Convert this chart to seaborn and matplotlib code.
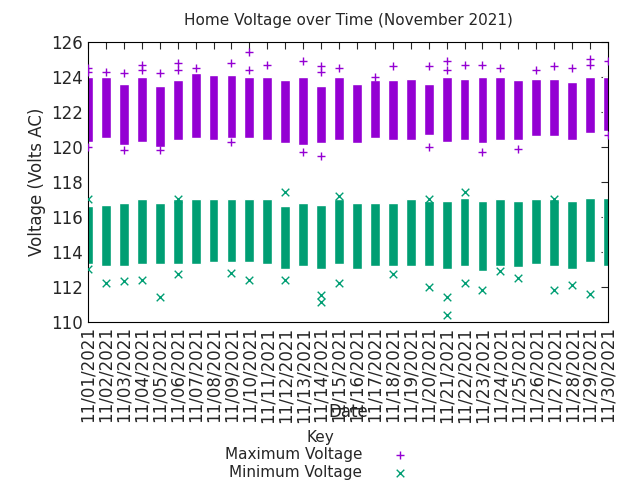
import numpy as np
import pandas as pd
import matplotlib
matplotlib.use("Agg")
import matplotlib.pyplot as plt
import seaborn as sns

days = [f"11/{d:02d}/2021" for d in range(1, 31)]
max_hi = [124.0, 124.0, 123.6, 124.0, 123.5, 123.8, 124.2, 124.1, 124.1, 124.0,
          124.0, 123.8, 124.0, 123.5, 124.0, 123.6, 123.8, 123.8, 123.9, 123.6,
          124.0, 123.9, 124.0, 124.0, 123.8, 123.9, 123.9, 123.7, 124.0, 124.0]
max_lo = [120.3, 120.5, 120.1, 120.3, 120.0, 120.4, 120.5, 120.4, 120.5, 120.5,
          120.4, 120.2, 120.1, 120.2, 120.4, 120.2, 120.5, 120.4, 120.4, 120.7,
          120.3, 120.4, 120.2, 120.4, 120.4, 120.6, 120.6, 120.4, 120.8, 120.9]
min_hi = [116.6, 116.7, 116.8, 117.0, 116.8, 117.0, 117.0, 117.0, 117.0, 117.0,
          117.0, 116.6, 116.8, 116.7, 117.0, 116.8, 116.8, 116.8, 117.0, 116.9,
          116.9, 117.1, 116.9, 117.0, 116.9, 117.0, 117.0, 116.9, 117.1, 117.1]
min_lo = [113.3, 113.2, 113.2, 113.3, 113.3, 113.3, 113.3, 113.4, 113.4, 113.4,
          113.3, 113.0, 113.2, 113.0, 113.3, 113.0, 113.2, 113.2, 113.2, 113.2,
          113.0, 113.2, 112.9, 113.2, 113.1, 113.3, 113.2, 113.0, 113.4, 113.2]

# scattered readings outside the dense band (day index, volts)
max_out_day = [0, 0, 1, 2, 3, 3, 4, 5, 5, 6, 8, 9, 9, 10, 12, 13, 13, 14, 16, 17, 19, 20,
               20, 21, 22, 23, 25, 26, 27, 28, 28, 29, 0, 2, 4, 8, 12, 13, 19, 22, 24, 29]
max_out_val = [124.5, 124.3, 124.3, 124.2, 124.7, 124.4, 124.2, 124.8, 124.4, 124.5, 124.8,
               125.4, 124.4, 124.7, 124.9, 124.6, 124.3, 124.5, 124.0, 124.6, 124.6, 124.9,
               124.4, 124.7, 124.7, 124.5, 124.4, 124.6, 124.5, 125.0, 124.7, 124.9,
               120.0, 119.8, 119.8, 120.3, 119.7, 119.5, 120.0, 119.7, 119.9, 120.7]
min_out_day = [0, 1, 2, 3, 4, 5, 8, 9, 11, 13, 13, 14, 17, 19, 19, 20, 21, 21, 22, 23, 24,
               26, 26, 27, 28, 0, 5, 11, 14, 20]
min_out_val = [117.0, 112.2, 112.3, 112.4, 111.4, 112.7, 112.8, 112.4, 117.4, 111.5, 111.1,
               117.2, 112.7, 112.0, 117.0, 110.4, 112.2, 117.4, 111.8, 112.9, 112.5,
               111.8, 117.0, 112.1, 111.6, 113.0, 117.0, 112.4, 112.2, 111.4]

purple = "#9400d3"
green = "#009e73"

sns.set_style("white")
fig, ax = plt.subplots(figsize=(6.4, 4.8), dpi=100)
fig.subplots_adjust(left=0.1375, right=0.95, top=0.9125, bottom=0.33)

x = np.arange(len(days))
w = 0.55
ax.bar(x, np.array(max_hi) - np.array(max_lo), bottom=max_lo, width=w, color=purple, zorder=2)
ax.bar(x, np.array(min_hi) - np.array(min_lo), bottom=min_lo, width=w, color=green, zorder=2)

mx = pd.DataFrame({"day": max_out_day, "v": max_out_val})
mn = pd.DataFrame({"day": min_out_day, "v": min_out_val})
sns.scatterplot(data=mx, x="day", y="v", marker="+", color=purple, s=40, linewidth=1,
                ax=ax, label="Maximum Voltage", zorder=3)
sns.scatterplot(data=mn, x="day", y="v", marker="x", color=green, s=30, linewidth=1,
                ax=ax, label="Minimum Voltage", zorder=3)

ax.set_xlim(0, len(days) - 1)
ax.set_ylim(110, 126)
ax.set_yticks(range(110, 127, 2))
ax.set_xticks(x)
ax.set_xticklabels(days, rotation=90, fontsize=12)
ax.tick_params(axis="y", labelsize=12)
ax.tick_params(direction="in", top=True, right=True, length=5)
for s in ax.spines.values():
    s.set_color("black")
ax.set_title("Home Voltage over Time (November 2021)", fontsize=11, pad=12)
ax.set_ylabel("Voltage (Volts AC)", fontsize=12)
ax.set_xlabel("Date", fontsize=12, labelpad=-14)

leg = fig.legend(*ax.get_legend_handles_labels(), title="Key", loc="upper center",
                 bbox_to_anchor=(0.5, 0.13 + 0.0), frameon=False, fontsize=11,
                 title_fontsize=11, markerfirst=False, handletextpad=1.5,
                 borderpad=0, labelspacing=0.15)
ax.get_legend().remove()
leg.set_bbox_to_anchor((0.5, 0.125), transform=fig.transFigure)
leg.get_title().set_position((0, 0))
fig.legends[0]._legend_box.align = "center"
leg = fig.legends[0]
leg.set_bbox_to_anchor((0.5, 0.12))
fig.savefig("out.png")
